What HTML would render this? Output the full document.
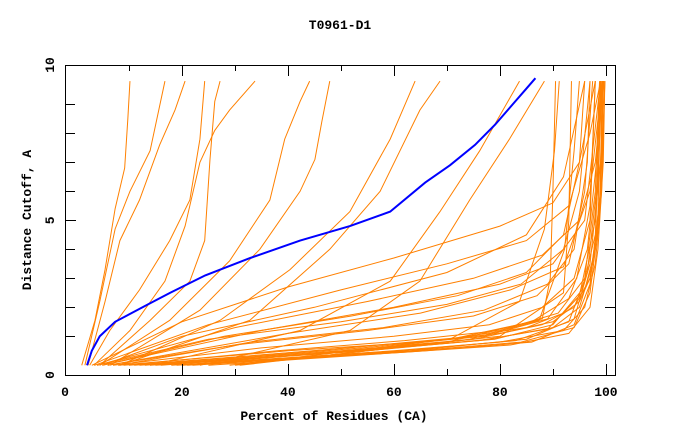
<!DOCTYPE html>
<html><head><meta charset="utf-8"><style>
body{margin:0;background:#fff;}
svg text{font-family:"Liberation Mono",monospace;font-weight:bold;font-size:13px;fill:#000;}
</style></head><body>
<svg id="chart" width="680" height="440" xmlns="http://www.w3.org/2000/svg">
<rect x="0" y="0" width="680" height="440" fill="#fff"/>
<text x="340" y="29" text-anchor="middle">T0961-D1</text>
<text x="334" y="420" text-anchor="middle">Percent of Residues (CA)</text>
<text transform="translate(31,220) rotate(-90)" text-anchor="middle">Distance Cutoff, A</text>
<g id="lines"></g>
<g id="axes"></g>
</svg>
<script>
const xTicks=[0,20,40,60,80,100];
const xMinor=[10,30,50,70,90];
const yTicks=[0,5,10];
const yMinor=[1,2,3,4,6,7,8,9];
const blueX=[2.1,3.0,4.5,7.4,13.6,17.8,24.4,32.9,42.3,51.7,59.3,65.9,70.6,75.3,79.1,81.0,82.9,84.8,86.7];
const blueY=[0,0.5,1,1.5,2.1,2.5,3.1,3.7,4.3,4.8,5.3,6.3,6.9,7.6,8.3,8.7,9.1,9.5,9.9];
const models=[
[[1.1,0],[3.6,1.55],[5.5,3.3],[7.4,5.4],[9.2,6.8],[9.8,8.5],[10.2,9.8]],
[[1.7,0],[4.5,2.2],[7.4,4.7],[10.2,6],[14,7.4],[16.8,9.8]],
[[2.3,0],[5.5,2.2],[8.3,4.3],[12,5.7],[15.8,7.6],[18.7,8.8],[20.6,9.8]],
[[2.6,0],[6.4,1.2],[12,2.6],[17.7,4.3],[21.5,5.7],[23.4,7.8],[24.3,9.8]],
[[3.4,0],[10.2,1.2],[16.8,2.9],[20.6,4.8],[23.4,7],[26.2,8.1],[29,8.8],[33.8,9.8]],
[[4.5,0],[14,1.55],[21.5,2.9],[24.3,4.3],[25.3,7.1],[26.2,9.1],[27.2,9.8]],
[[4.5,0],[17.7,1.55],[29,3.6],[36.6,5.7],[39.4,7.8],[42.3,9.1],[44.1,9.8]],
[[6.4,0],[23.4,1.9],[34.7,4],[42.3,6],[45.1,7.1],[46.4,8.4],[47.9,9.8]],
[[8.3,0],[27.2,1.55],[40.4,3.3],[51.7,5.3],[59.3,7.8],[64,9.8]],
[[8.3,0],[32.8,1.55],[47.9,4],[57.4,6],[64.9,8.8],[68.7,9.8]],
[[14,0],[42.3,1.2],[59.3,2.9],[68.7,5.3],[76.2,7.4],[83.7,9.8]],
[[23.4,0],[51.7,1.2],[64.9,2.9],[74.3,5.7],[81.8,7.8],[88.4,9.8]],
[[29,0],[70.6,0.9],[83.7,2.2],[88.4,4.7],[90.3,7.4],[91.2,9.8]],
[[30.9,0],[74.3,0.9],[87.4,1.55],[92.2,4],[94,7.4],[95,9.8]],
[[3,0],[20,1.5],[40,2.7],[60,3.7],[80,4.8],[90,5.6],[95,7],[98,9.8]],
[[3.5,0],[25,1.4],[50,2.6],[70,3.5],[85,4.3],[93,5.5],[97,8],[99,9.8]],
[[4,0],[30,1.3],[55,2.2],[75,3],[88,3.8],[95,5],[98,7],[99.5,9.8]],
[[5,0],[35,1.2],[60,2],[80,2.8],[90,3.5],[96,5],[99,9.8]],
[[6,0],[40,1.1],[65,1.8],[82,2.6],[92,3.4],[97,6],[99.3,9.8]],
[[5,0],[20,1],[45,2],[70,3.2],[85,4.5],[92,6.5],[96,9.8]],
[[8,0],[40,0.5],[65,0.8],[80,1.1],[90,1.5],[95,2.2],[97,3],[98.5,5],[99,9.8]],
[[10,0],[45,0.5],[70,0.9],[85,1.3],[92,1.8],[96,2.6],[98,4],[99,6],[99.5,9.8]],
[[12,0],[50,0.5],[75,0.9],[88,1.4],[94,2],[97,3],[98.8,5],[99.3,9.8]],
[[15,0],[55,0.5],[78,0.9],[90,1.3],[95,2],[97.5,3.5],[99,6],[99.5,9.8]],
[[18,0],[60,0.5],[80,0.8],[92,1.2],[96,2],[98,3.5],[99.2,6],[99.8,9.8]],
[[20,0],[62,0.45],[82,0.7],[93,1.1],[97,2],[98.5,4],[99.5,7],[99.8,9.8]],
[[22,0],[64,0.5],[84,0.8],[94,1.3],[97,2.5],[98.7,5],[99.5,9.8]],
[[7,0],[35,0.6],[60,1],[78,1.4],[88,2],[94,3],[97,5],[98,9.8]],
[[6,0],[30,0.7],[55,1.2],[75,1.7],[87,2.4],[93,3.5],[96,6],[97.5,9.8]],
[[25,0],[66,0.5],[86,0.8],[94,1.4],[97,2.8],[99,6],[99.8,9.8]],
[[9,0],[38,0.5],[62,0.85],[80,1.2],[91,1.8],[96,3],[98,6],[98.8,9.8]],
[[11,0],[48,0.55],[72,0.95],[86,1.5],[93,2.3],[96.5,4],[98.5,7.5],[99,9.8]],
[[14,0],[52,0.5],[76,0.85],[89,1.25],[95,2.4],[98,5],[99,9.8]],
[[16,0],[57,0.55],[79,0.9],[90,1.4],[95.5,2.6],[98,4.5],[99.3,9.8]],
[[4,0],[25,0.9],[50,1.5],[70,2.1],[84,2.8],[92,4],[95,6],[97,9.8]],
[[5,0],[28,1],[52,1.7],[72,2.4],[85,3.2],[92,4.5],[95,7],[96,9.8]],
[[8,0],[33,0.8],[58,1.3],[77,1.9],[89,2.8],[94,4],[96.5,7],[97,9.8]],
[[13,0],[54,0.6],[77,1],[89,1.6],[94.5,3],[97,5.5],[98,9.8]],
[[19,0],[61,0.5],[83,0.85],[93,1.5],[96.5,3.2],[98.5,6.5],[99.2,9.8]],
[[21,0],[63,0.5],[85,0.9],[94,1.6],[97,3.5],[99,7],[99.6,9.8]],
[[20,0],[70,0.8],[88,1.6],[89.5,3],[90,6],[90.5,9.8]],
[[30,0],[80,1],[92,2.5],[93,5],[93.5,9.8]]
];
const NS='http://www.w3.org/2000/svg';
const L=65,R=615,T=65,B=375;
function sx(v){return 75.9+5.3*v;}
function sy(v){return 365.3-29*v;}
const lg=document.getElementById('lines');
models.forEach(function(m,i){
  const p=document.createElementNS(NS,'polyline');
  p.setAttribute('points',m.map(function(d){return sx(d[0])+','+sy(d[1]);}).join(' '));
  p.setAttribute('fill','none');p.setAttribute('stroke','#ff8000');p.setAttribute('stroke-width','1');
  
  
  lg.appendChild(p);
});
const bp=document.createElementNS(NS,'polyline');
bp.setAttribute('points',blueX.map(function(v,i){return sx(v)+','+sy(blueY[i]);}).join(' '));
bp.setAttribute('fill','none');bp.setAttribute('stroke','#0000ff');bp.setAttribute('stroke-width','2');


lg.appendChild(bp);
const ag=document.getElementById('axes');
function ln(x1,y1,x2,y2,name){
  const l=document.createElementNS(NS,'line');
  l.setAttribute('x1',x1);l.setAttribute('y1',y1);l.setAttribute('x2',x2);l.setAttribute('y2',y2);
  l.setAttribute('stroke','#000');l.setAttribute('stroke-width','1');
  
  
  ag.appendChild(l);
}
function tx(x,y,s,anchor,name,rot){
  const t=document.createElementNS(NS,'text');
  t.setAttribute('text-anchor',anchor);
  if(rot){t.setAttribute('transform','translate('+x+','+y+') rotate(-90)');}
  else{t.setAttribute('x',x);t.setAttribute('y',y);}
  t.textContent=s;
  
  
  ag.appendChild(t);
}
const fr=document.createElementNS(NS,'rect');
fr.setAttribute('x',L+0.5);fr.setAttribute('y',T+0.5);fr.setAttribute('width',R-L);fr.setAttribute('height',B-T);
fr.setAttribute('fill','none');fr.setAttribute('stroke','#000');


ag.appendChild(fr);
xTicks.forEach(function(v){
  const x=Math.round(sx(v))+0.5;
  if(v>0&&v<100){ln(x,B,x,B-11,'x-tick');ln(x,T,x,T+11,'x-tick-top');}
  else if(v===100){ln(x,B,x,B-11,'x-tick');ln(x,T,x,T+11,'x-tick-top');}
  const lx=v===0?L:sx(v);
  tx(lx,396,String(v),'middle','x-tick-label');
});
xMinor.forEach(function(v){const x=Math.round(sx(v))+0.5;ln(x,B,x,B-6,'x-minor-tick');ln(x,T,x,T+6,'x-minor-tick-top');});
yTicks.forEach(function(v){
  const y=Math.round(sy(v))+0.5;
  if(v===5){ln(L,y,L+11,y,'y-tick');ln(R,y,R-11,y,'y-tick-right');}
  const ly=v===0?B:(v===10?T:sy(v));
  tx(54,ly,String(v),'middle','y-tick-label',true);
});
yMinor.forEach(function(v){const y=Math.round(sy(v))+0.5;ln(L,y,L+10,y,'y-minor-tick');ln(R,y,R-10,y,'y-minor-tick-right');});
</script>
</body></html>
